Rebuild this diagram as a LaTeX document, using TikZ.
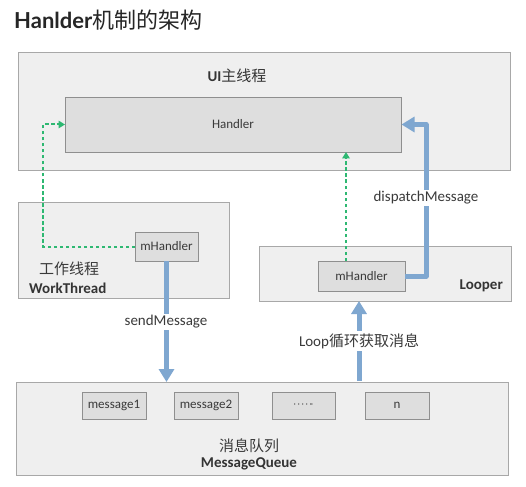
\documentclass[tikz,border=0pt]{standalone}
\usepackage{fontspec}
\setmainfont{Carlito}
\newfontfamily\cjk{Noto Sans CJK SC}
\newfontfamily\titlefont{Lato}
\usetikzlibrary{arrows.meta}
\definecolor{txt}{HTML}{3A3A3A}
\definecolor{outerfill}{HTML}{EFEFEF}
\definecolor{outerline}{HTML}{A8A8A8}
\definecolor{innerfill}{HTML}{DEDEDE}
\definecolor{innerline}{HTML}{8F8F8F}
\definecolor{bluearrow}{HTML}{7FA7D0}
\definecolor{greenarrow}{HTML}{2EB872}
\begin{document}
\begin{tikzpicture}[x=1pt,y=-1pt,
  outerbox/.style={draw=outerline,fill=outerfill,line width=1pt,inner sep=0pt,outer sep=0pt},
  innerbox/.style={draw=innerline,fill=innerfill,line width=0.8pt,inner sep=0pt,outer sep=0pt,
     text=txt,font=\fontsize{13}{15}\selectfont},
  lbl/.style={text=txt,inner sep=1pt,font=\fontsize{15}{17}\selectfont},
  blbl/.style={text=txt!90!black,inner sep=0pt,font=\fontsize{15}{17}\selectfont\bfseries},
  greenflow/.style={draw=greenarrow,line width=2pt,dash pattern=on 3.5pt off 2.5pt,
     -{Triangle[width=7.5pt,length=6.5pt]}},
  blueflow/.style={draw=bluearrow,line width=5pt,line join=round,
     -{Triangle[width=15pt,length=13pt]}},
  arrowlbl/.style={lbl,fill=white,inner sep=2pt}]
\useasboundingbox (0,0) rectangle (526,486);
\fill[white] (0,0) rectangle (526,486);
% title
\node[anchor=base west,inner sep=0pt,text=black!85] (title) at (14,29)
  {\fontsize{22}{26}\selectfont\titlefont\bfseries Hanlder{\cjk\mdseries 机制的架构}};
% boxes
\node[outerbox,minimum width=492pt,minimum height=118pt] (ui) at (264,112) {};
\node[blbl] (uilbl) at (237,76) {UI{\cjk\mdseries 主线程}};
\node[innerbox,minimum width=336pt,minimum height=55pt] (handler) at (233,124.5) {Handler};
\node[outerbox,minimum width=211pt,minimum height=96pt] (work) at (123.5,250) {};
\node[innerbox,minimum width=63pt,minimum height=29pt] (wmh) at (166.5,246.5) {mHandler};
\node[lbl] (worklbl) at (69,269) {\cjk 工作线程};
\node[blbl,anchor=base west] (workbold) at (29,293) {WorkThread};
\node[outerbox,minimum width=252pt,minimum height=55pt] (looper) at (385,273.5) {};
\node[innerbox,minimum width=87pt,minimum height=30pt] (lmh) at (361.5,276) {mHandler};
\node[blbl,anchor=base east] (looperlbl) at (503,289) {Looper};
\node[outerbox,minimum width=492pt,minimum height=93pt] (mq) at (262,428.5) {};
\node[innerbox,minimum width=64pt,minimum height=27pt] (m1) at (114,405.5) {message1};
\node[innerbox,minimum width=64pt,minimum height=27pt] (m2) at (206,405.5) {message2};
\node[innerbox,minimum width=63pt,minimum height=27pt] (md) at (303.5,405.5) {\raisebox{1pt}{$\cdot\!\cdot\!\cdot\!\cdot\!\cdot\!\cdot$}};
\node[innerbox,minimum width=64pt,minimum height=27pt] (mn) at (397,405.5) {n};
\node[lbl] (mqlbl) at (249,446) {\cjk 消息队列};
\node[blbl] (mqbold) at (249,464) {MessageQueue};
% green dashed connectors
\draw[greenflow] (wmh.west) -- ++(-92,0) |- (handler.west);
\coordinate (gx) at (346,0);
\draw[greenflow] (lmh.north -| gx) -- (handler.south -| gx);
% blue connectors
\draw[blueflow] (lmh.east) -- ++(21,0) |- ([xshift=0.5pt]handler.east);
\node[arrowlbl] (dlbl) at (426,198) {dispatchMessage};
\draw[blueflow] (wmh.south) -- (wmh.south |- mq.north);
\node[arrowlbl] (slbl) at (166,322) {sendMessage};
\coordinate (lx) at (359,0);
\draw[blueflow] ([yshift=1pt]mq.north -| lx) -- (looper.south -| lx);
\node[arrowlbl] (llbl) at (359,341) {Loop{\cjk 循环获取消息}};
\end{tikzpicture}
\end{document}
